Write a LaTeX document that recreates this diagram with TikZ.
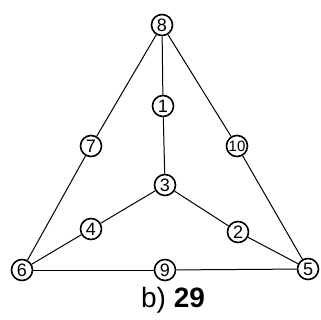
\documentclass[tikz,border=0pt]{standalone}
\usepackage{fontspec}
\setmainfont{Liberation Sans}
\begin{document}
\begin{tikzpicture}[x=1pt,y=-1pt,
  vert/.style={circle,draw,line width=1.6pt,minimum size=21pt,inner sep=0pt,fill=white,font=\fontsize{18}{18}\selectfont},
  edge/.style={line width=1pt}]
\useasboundingbox (0,0) rectangle (320,320);
\node[vert] (n8) at (162,25) {8};
\node[vert] (n1) at (163,106) {1};
\node[vert] (n7) at (91,146) {7};
\node[vert] (n10) at (237,146) {\fontsize{15}{15}\selectfont 10};
\node[vert] (n3) at (165,185) {3};
\node[vert] (n4) at (91,229) {4};
\node[vert] (n2) at (238,232) {2};
\node[vert] (n6) at (22,270) {6};
\node[vert] (n9) at (165,270) {9};
\node[vert] (n5) at (308,269) {5};
\draw[edge] (n8) -- (n7);
\draw[edge] (n7) -- (n6);
\draw[edge] (n8) -- (n1);
\draw[edge] (n1) -- (n3);
\draw[edge] (n8) -- (n10);
\draw[edge] (n10) -- (n5);
\draw[edge] (n3) -- (n4);
\draw[edge] (n4) -- (n6);
\draw[edge] (n3) -- (n2);
\draw[edge] (n2) -- (n5);
\draw[edge] (n6) -- (n9);
\draw[edge] (n9) -- (n5);
\node[font=\fontsize{28}{28}\selectfont] (lbl) at (173,300) {b) \textbf{29}};
\end{tikzpicture}
\end{document}
